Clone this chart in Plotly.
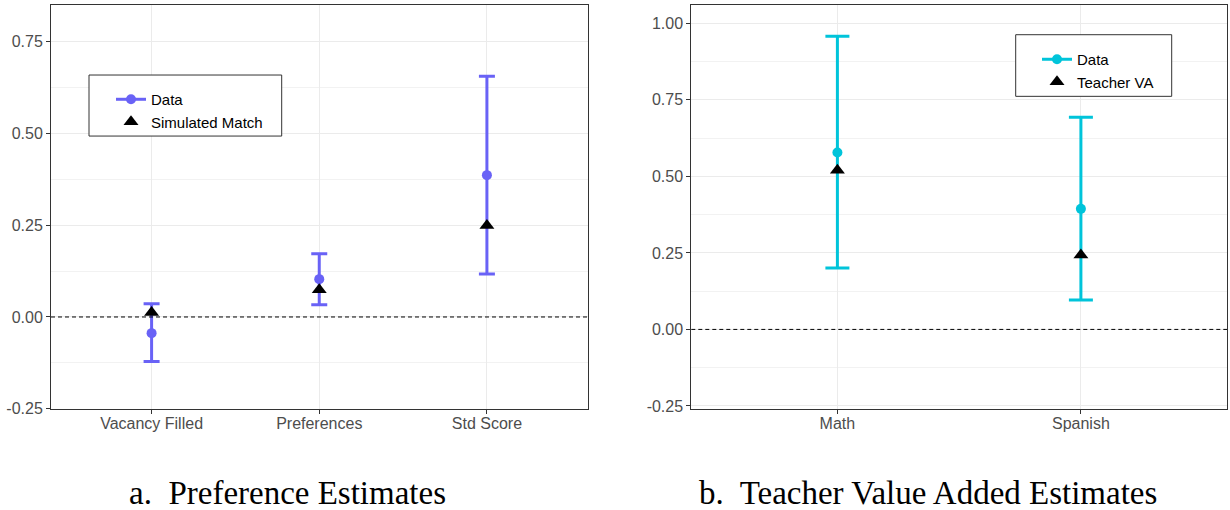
import plotly.graph_objects as go

# ---- Data: panel a (Preference Estimates)
cats_a = ["Vacancy Filled", "Preferences", "Std Score"]
data_a = [-0.044, 0.103, 0.386]
upper_a = [0.036, 0.172, 0.655]
lower_a = [-0.121, 0.033, 0.117]
sim_a = [0.012, 0.074, 0.249]

# ---- Data: panel b (Teacher Value Added Estimates)
cats_b = ["Math", "Spanish"]
data_b = [0.578, 0.394]
upper_b = [0.958, 0.693]
lower_b = [0.201, 0.096]
va_b = [0.520, 0.243]

yticks_a = [-0.25, 0.0, 0.25, 0.5, 0.75]
yticks_b = [-0.25, 0.0, 0.25, 0.5, 0.75, 1.0]

col_a = "#6962F6"
col_b = "#00C4DA"

W, H = 1230, 510
HEFF = H * 0.982  # observed vertical scale of the rendered page
def px(x):
    return x / W
def py(y):
    return 1 - y / HEFF

xa = list(range(1, len(cats_a) + 1))
xb = list(range(1, len(cats_b) + 1))

fig = go.Figure()

fig.add_trace(go.Scatter(
    x=xa, y=data_a, mode="markers", name="Data", showlegend=False,
    marker=dict(color=col_a, size=10, symbol="circle"),
    error_y=dict(type="data", symmetric=False,
                 array=[u - d for u, d in zip(upper_a, data_a)],
                 arrayminus=[d - l for d, l in zip(data_a, lower_a)],
                 color=col_a, thickness=3, width=8),
    xaxis="x", yaxis="y", legend="legend",
))
fig.add_trace(go.Scatter(
    x=[None], y=[None], mode="markers+lines", name="Data",
    line=dict(color=col_a, width=3),
    marker=dict(color=col_a, size=10, symbol="circle"),
    xaxis="x", yaxis="y", legend="legend",
))
fig.add_trace(go.Scatter(
    x=xa, y=sim_a, mode="markers", name="Simulated Match",
    marker=dict(color="black", size=13, symbol="triangle-up"),
    xaxis="x", yaxis="y", legend="legend",
))

fig.add_trace(go.Scatter(
    x=xb, y=data_b, mode="markers", name="Data", showlegend=False,
    marker=dict(color=col_b, size=10, symbol="circle"),
    error_y=dict(type="data", symmetric=False,
                 array=[u - d for u, d in zip(upper_b, data_b)],
                 arrayminus=[d - l for d, l in zip(data_b, lower_b)],
                 color=col_b, thickness=3, width=12),
    xaxis="x2", yaxis="y2", legend="legend2",
))
fig.add_trace(go.Scatter(
    x=[None], y=[None], mode="markers+lines", name="Data",
    line=dict(color=col_b, width=3),
    marker=dict(color=col_b, size=10, symbol="circle"),
    xaxis="x2", yaxis="y2", legend="legend2",
))
fig.add_trace(go.Scatter(
    x=xb, y=va_b, mode="markers", name="Teacher VA",
    marker=dict(color="black", size=13, symbol="triangle-up"),
    xaxis="x2", yaxis="y2", legend="legend2",
))

tickfont = dict(family="Liberation Sans, Arial", size=16, color="#4D4D4D")
common_axis = dict(showline=True, linecolor="#333333", linewidth=1, mirror=True,
                   ticks="outside", ticklen=4, tickcolor="#333333",
                   gridcolor="#EBEBEB", gridwidth=1.2, zeroline=False,
                   tickfont=tickfont)

ydom = [py(408.7), py(5)]
legfont = dict(family="Liberation Sans, Arial", size=15, color="black")

fig.update_layout(
    width=W, height=H, autosize=False,
    margin=dict(l=0, r=0, t=0, b=0),
    paper_bgcolor="white", plot_bgcolor="white",
    xaxis=dict(domain=[px(51), px(587.5)], range=[0.4, 3.6],
               tickvals=xa, ticktext=cats_a, anchor="y",
               ticklabelstandoff=-4, **common_axis),
    yaxis=dict(domain=ydom, range=[-0.25, 0.849], tickvals=yticks_a,
               ticktext=["%.2f" % v for v in yticks_a], anchor="x",
               minor=dict(tickvals=[-0.125, 0.125, 0.375, 0.625],
                          showgrid=True, gridcolor="#F2F2F2", gridwidth=1, ticks=""),
               **common_axis),
    xaxis2=dict(domain=[px(691.3), px(1227)], range=[0.4, 2.6],
                tickvals=xb, ticktext=cats_b, anchor="y2",
                ticklabelstandoff=-4, **common_axis),
    yaxis2=dict(domain=ydom, range=[-0.2595, 1.06], tickvals=yticks_b,
                ticktext=["%.2f" % v for v in yticks_b], anchor="x2",
                minor=dict(tickvals=[-0.125, 0.125, 0.375, 0.625, 0.875],
                           showgrid=True, gridcolor="#F2F2F2", gridwidth=1, ticks=""),
                **common_axis),
    legend=dict(x=px(111), y=py(83), xanchor="left", yanchor="top",
                bgcolor="rgba(0,0,0,0)", borderwidth=0,
                font=legfont, tracegroupgap=0, itemwidth=30),
    legend2=dict(x=px(1037), y=py(43), xanchor="left", yanchor="top",
                 bgcolor="rgba(0,0,0,0)", borderwidth=0,
                 font=legfont, tracegroupgap=0, itemwidth=30),
    shapes=[
        dict(type="line", xref="x domain", yref="y", x0=0, x1=1, y0=0, y1=0,
             line=dict(color="black", width=1, dash="4px,3px"), layer="above"),
        dict(type="line", xref="x2 domain", yref="y2", x0=0, x1=1, y0=0, y1=0,
             line=dict(color="black", width=1, dash="4px,3px"), layer="above"),
        # legend boxes
        dict(type="rect", xref="paper", yref="paper",
             x0=px(89), x1=px(281.7), y0=py(136), y1=py(75),
             line=dict(color="#333333", width=1), fillcolor="white", layer="above"),
        dict(type="rect", xref="paper", yref="paper",
             x0=px(1015.7), x1=px(1171.7), y0=py(96.3), y1=py(34.7),
             line=dict(color="#333333", width=1), fillcolor="white", layer="above"),
    ],
    annotations=[
        dict(text="a.  Preference Estimates", xref="paper", yref="paper",
             x=px(287.8), y=py(493), xanchor="center", yanchor="middle",
             showarrow=False, font=dict(family="Liberation Serif", size=33, color="black")),
        dict(text="b.  Teacher Value Added Estimates", xref="paper", yref="paper",
             x=px(928.3), y=py(493), xanchor="center", yanchor="middle",
             showarrow=False, font=dict(family="Liberation Serif", size=33, color="black")),
    ],
)

fig.write_html("out.html", config={"displayModeBar": False},
               post_script="document.body.style.margin='0px';document.body.style.overflow='hidden';")
